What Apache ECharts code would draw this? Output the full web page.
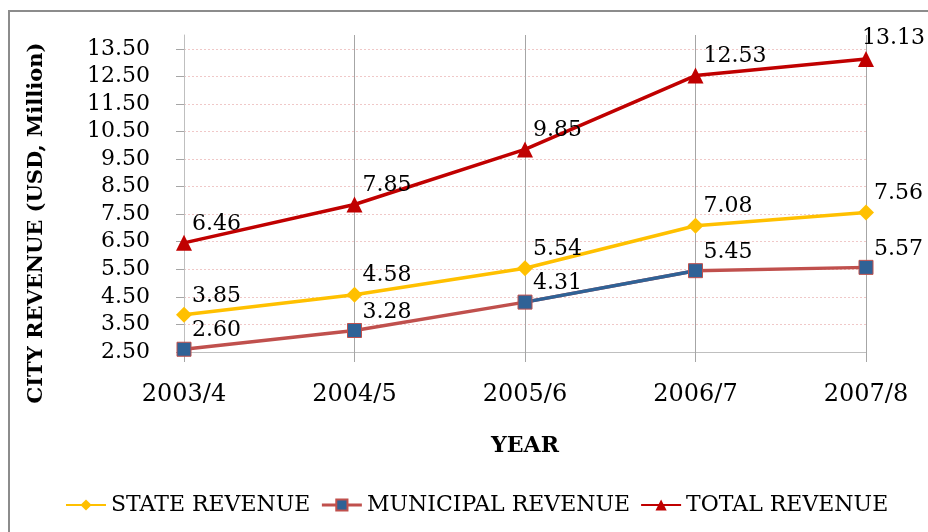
<!DOCTYPE html>
<html>
<head>
<meta charset="utf-8">
<script src="https://cdn.jsdelivr.net/npm/echarts@6/dist/echarts.min.js"></script>
<style>
html, body { margin: 0; padding: 0; background: #fff; }
#chart { width: 928px; height: 532px; }
</style>
</head>
<body>
<div id="chart"></div>
<script>
const years = ['2003/4', '2004/5', '2005/6', '2006/7', '2007/8'];
const stateRevenue = [3.85, 4.58, 5.54, 7.08, 7.56];
const municipalRevenue = [2.60, 3.28, 4.31, 5.45, 5.57];
const totalRevenue = [6.46, 7.85, 9.85, 12.53, 13.13];
// segment of the municipal line drawn in blue in the original
const municipalBlue = [null, null, 4.31, 5.45, null];

const FONT = 'DejaVu Serif';
const chart = echarts.init(document.getElementById('chart'));

const labelStyle = {
    show: true,
    position: 'top',
    align: 'left',
    distance: 0,
    offset: [8, 0],
    fontFamily: FONT,
    fontSize: 22,
    color: '#000',
    formatter: (p) => p.value.toFixed(2)
};

// last total label sits back inside the chart
const totalData = totalRevenue.map((v, i) => i === totalRevenue.length - 1
    ? { value: v, label: { offset: [-4, -2] } }
    : v);

const option = {
    backgroundColor: '#fff',
    animation: false,
    grid: { left: 184, right: 62, top: 35, bottom: 180 },
    graphic: [
        {
            type: 'rect',
            shape: { x: 9, y: 11, width: 940, height: 540 },
            style: { fill: 'none', stroke: '#8c8c8c', lineWidth: 2 },
            silent: true
        },
        {
            type: 'text',
            x: 37,
            y: 223,
            rotation: Math.PI / 2,
            style: {
                text: 'CITY REVENUE (USD, Million)',
                fontFamily: FONT,
                fontWeight: 'bold',
                fontSize: 21,
                fill: '#000',
                align: 'center',
                verticalAlign: 'middle'
            }
        }
    ],
    legend: {
        left: 60,
        top: 489,
        itemWidth: 40,
        itemHeight: 14,
        itemGap: 10,
        textStyle: { fontFamily: FONT, fontSize: 22, color: '#000' },
        data: [
            { name: 'STATE REVENUE' },
            { name: 'MUNICIPAL REVENUE', lineStyle: { color: '#C0504D', width: 3, opacity: 1 } },
            { name: 'TOTAL REVENUE' }
        ]
    },
    xAxis: {
        type: 'category',
        data: years,
        boundaryGap: false,
        name: 'YEAR',
        nameLocation: 'middle',
        nameGap: 83,
        nameTextStyle: { fontFamily: FONT, fontWeight: 'bold', fontSize: 22, color: '#000' },
        axisLine: { lineStyle: { color: '#bfbfbf', width: 1 } },
        axisTick: { show: true, length: 10, lineStyle: { color: '#a6a6a6' } },
        axisLabel: { margin: 31, fontFamily: FONT, fontSize: 24, color: '#000' },
        splitLine: { show: true, lineStyle: { color: '#a6a6a6', width: 1 } }
    },
    yAxis: {
        type: 'value',
        min: 2.5,
        max: 14,
        interval: 1,
        axisLine: { show: true, lineStyle: { color: '#bfbfbf', width: 1 } },
        axisTick: { show: true, length: 8, lineStyle: { color: '#a6a6a6' } },
        axisLabel: {
            margin: 34,
            fontFamily: FONT,
            fontSize: 22,
            color: '#000',
            showMaxLabel: false,
            formatter: (v) => v.toFixed(2)
        },
        splitLine: {
            show: true,
            showMaxLine: false,
            lineStyle: { color: '#f0c8c8', type: [2, 2], width: 1 }
        }
    },
    series: [
        {
            name: 'STATE REVENUE',
            type: 'line',
            data: stateRevenue,
            symbol: 'diamond',
            symbolSize: 16,
            color: '#FFC000',
            lineStyle: { color: '#FFC000', width: 3.5 },
            itemStyle: { color: '#FFC000' },
            label: labelStyle,
            z: 3
        },
        {
            name: 'MUNICIPAL REVENUE',
            type: 'line',
            data: municipalRevenue,
            symbol: 'rect',
            symbolSize: 14,
            color: '#2F6296',
            lineStyle: { color: '#C0504D', width: 3.5 },
            itemStyle: { color: '#2F6296', borderColor: '#C0504D', borderWidth: 1 },
            label: labelStyle,
            z: 2
        },
        {
            name: 'municipal-segment',
            type: 'line',
            data: municipalBlue,
            symbol: 'none',
            silent: true,
            lineStyle: { color: '#2F6296', width: 3.5 },
            z: 2
        },
        {
            name: 'TOTAL REVENUE',
            type: 'line',
            data: totalData,
            symbol: 'triangle',
            symbolSize: 16,
            color: '#C00000',
            lineStyle: { color: '#C00000', width: 3.5 },
            itemStyle: { color: '#C00000' },
            label: labelStyle,
            z: 3
        }
    ]
};

chart.setOption(option);
</script>
</body>
</html>
